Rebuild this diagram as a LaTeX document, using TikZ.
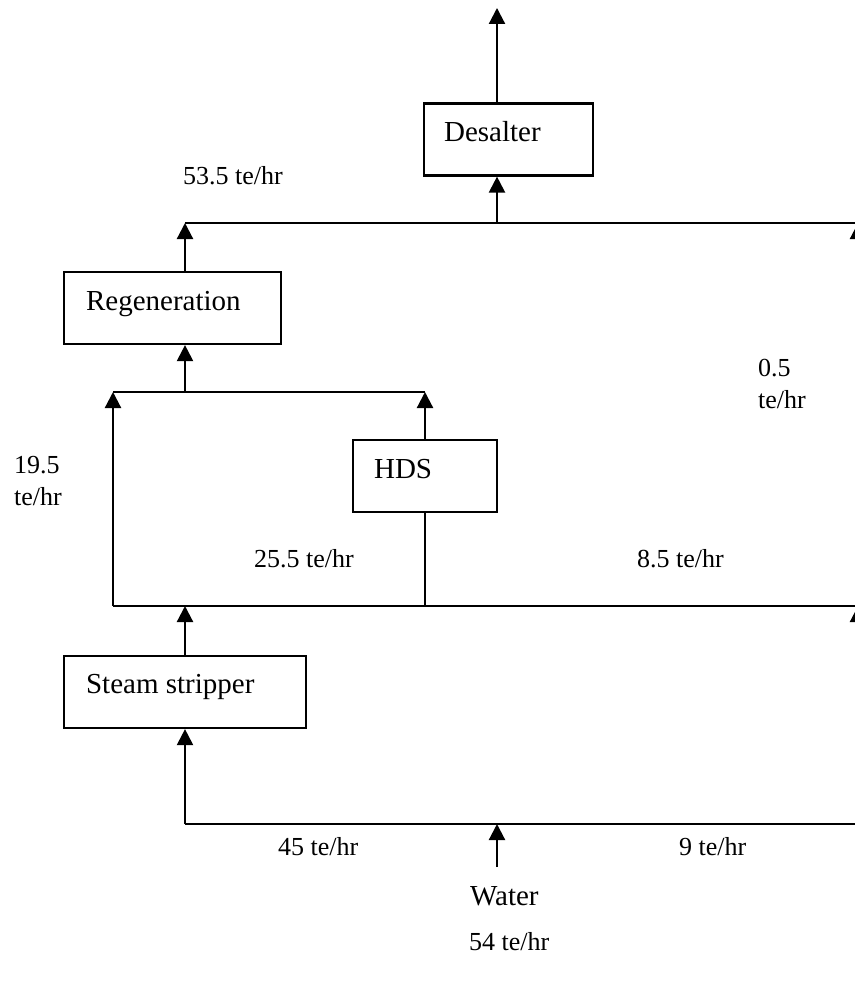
\documentclass[tikz,border=0pt]{standalone}
\usepackage{fontspec}
\setmainfont{Liberation Serif}
\usetikzlibrary{arrows.meta}
\begin{document}
\begin{tikzpicture}[x=0.5pt,y=-0.5pt,
  line width=1.1pt,
  unit/.style={draw,rectangle,inner sep=0pt,minimum height=36pt},
  unitlabel/.style={anchor=base west,inner sep=0pt,font=\fontsize{14.5}{17}\selectfont},
  rate/.style={anchor=base west,inner sep=0pt,align=left,font=\fontsize{13}{16}\selectfont},
  flow/.style={-{Triangle[length=8pt,width=8pt]}}]
\useasboundingbox (0,0) rectangle (855,984);
\begin{scope}
\clip (0,0) rectangle (855,984);

% process units
\node[unit,minimum width=84.5pt] (desalter) at (508.5,139.5) {};
\node[unit,minimum width=108.5pt] (regen) at (172.5,308) {};
\node[unit,minimum width=72pt] (hds) at (425,476) {};
\node[unit,minimum width=121pt] (stripper) at (185,692) {};

\node[unitlabel] (tdes) at (443,142) {Desalter};
\node[unitlabel] (treg) at (85,310) {Regeneration};
\node[unitlabel] (thds) at (373,478) {HDS};
\node[unitlabel] (tstr) at (85,693) {Steam stripper};

% junction points of the piping
\coordinate (out) at (497,8);
\coordinate (hA) at (185,223);
\coordinate (hB) at (497,223);
\coordinate (hR) at (858,223);
\coordinate (mL) at (113,392);
\coordinate (mC) at (185,392);
\coordinate (mH) at (425,392);
\coordinate (lL) at (113,606);
\coordinate (lC) at (185,606);
\coordinate (lH) at (425,606);
\coordinate (lR) at (858,606);
\coordinate (bC) at (185,824);
\coordinate (bW) at (497,824);
\coordinate (bR) at (858,824);
\coordinate (win) at (497,867);

% headers
\draw (hA) -- (hR);
\draw (mL) -- (mH);
\draw (lL) -- (lR);
\draw (bC) -- (bR);

% flows
\draw[flow] (out |- desalter.north) -- (out);
\draw[flow] (hB) -- (hB |- desalter.south);
\draw[flow] (hA |- regen.north) -- (hA);
\draw[flow] (mC) -- (mC |- regen.south);
\draw[flow] (lL) -- (mL);
\draw[flow] (hds.north) -- (mH);
\draw (hds.south) -- (lH);
\draw[flow] (lC |- stripper.north) -- (lC);
\draw[flow] (bC) -- (bC |- stripper.south);
\draw[flow] (win) -- (bW);
\draw[flow] (bR) -- (lR);
\draw[flow] (lR) -- (hR);
\end{scope}

% flow rates (base anchor sits on the last line)
\node[rate] (r535) at (182,185) {53.5 te/hr};
\node[rate] (r05) at (757,408) {0.5\\te/hr};
\node[rate] (r195) at (13,505) {19.5\\te/hr};
\node[rate] (r255) at (253,567) {25.5 te/hr};
\node[rate] (r85) at (636,567) {8.5 te/hr};
\node[rate] (r45) at (277,855) {45 te/hr};
\node[rate] (r9) at (678,855) {9 te/hr};
\node[unitlabel] (water) at (469,905) {Water};
\node[rate] (r54) at (468,950) {54 te/hr};
\end{tikzpicture}
\end{document}
